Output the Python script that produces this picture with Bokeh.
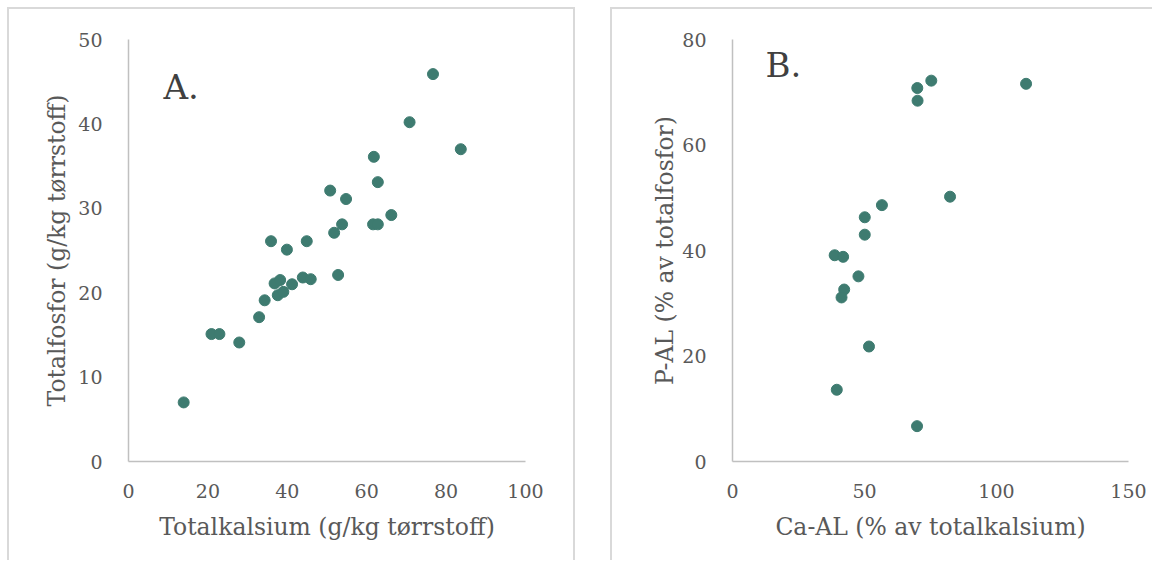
from bokeh.plotting import figure
from bokeh.models import Range1d, FixedTicker, Label
from bokeh.layouts import row
from bokeh.embed import file_html
from bokeh.resources import INLINE

# Panel A: total calcium vs total phosphorus (g/kg dry matter)
ca_total = [13.9, 20.9, 22.9, 27.9, 32.9, 34.3, 35.9, 36.8, 38.2, 37.6, 39.0, 39.9,
            41.2, 43.9, 44.9, 45.9, 50.8, 51.8, 52.8, 53.8, 54.8, 61.8, 61.6, 62.8,
            62.8, 66.2, 70.8, 76.7, 83.7]
p_total = [7.0, 15.1, 15.1, 14.1, 17.1, 19.1, 26.1, 21.1, 21.5, 19.7, 20.1, 25.1,
           21.0, 21.8, 26.1, 21.6, 32.1, 27.1, 22.1, 28.1, 31.1, 36.1, 28.1, 28.1,
           33.1, 29.2, 40.2, 45.9, 37.0]

# Panel B: Ca-AL (% of total Ca) vs P-AL (% of total P)
ca_al = [75.3, 70.0, 70.1, 111.2, 82.4, 56.6, 50.1, 50.1, 38.7, 41.9, 47.7, 42.3,
         41.3, 51.7, 39.5, 69.9]
p_al = [72.2, 70.8, 68.4, 71.6, 50.2, 48.6, 46.3, 43.0, 39.1, 38.8, 35.1, 32.6,
        31.1, 21.8, 13.6, 6.7]

xticks_a = [0, 20, 40, 60, 80, 100]
yticks_a = [0, 10, 20, 30, 40, 50]
xticks_b = [0, 50, 100, 150]
yticks_b = [0, 20, 40, 60, 80]

FONT = "DejaVu Serif"
TXT = "#595959"
DOT = "#3E7B70"
BORDER = "2px solid #d9d9d9"


def style(p, xt, yt, xlabel, ylabel, ystand):
    p.xgrid.visible = False
    p.ygrid.visible = False
    p.outline_line_color = None
    p.xaxis.ticker = FixedTicker(ticks=xt)
    p.yaxis.ticker = FixedTicker(ticks=yt)
    for ax in (p.xaxis[0], p.yaxis[0]):
        ax.major_tick_line_color = None
        ax.minor_tick_line_color = None
        ax.axis_line_color = "#c0c0c0"
        ax.axis_line_width = 1.5
        ax.major_label_text_font = FONT
        ax.major_label_text_font_size = "19px"
        ax.major_label_text_color = TXT
        ax.axis_label_text_font = FONT
        ax.axis_label_text_font_size = "23.5px"
        ax.axis_label_text_font_style = "normal"
        ax.axis_label_text_color = TXT
    p.xaxis.major_label_standoff = 16
    p.yaxis.major_label_standoff = 20
    p.xaxis.axis_label_standoff = 12
    p.yaxis.axis_label_standoff = ystand
    p.xaxis.axis_label = xlabel
    p.yaxis.axis_label = ylabel


pA = figure(width=568, height=553, x_range=Range1d(0, 100), y_range=Range1d(0, 50),
            output_backend="svg", toolbar_location=None,
            min_border_left=119, min_border_right=52, min_border_top=30, min_border_bottom=101)
style(pA, xticks_a, yticks_a, "Totalkalsium (g/kg tørrstoff)", "Totalfosfor (g/kg tørrstoff)", 4)
pA.scatter(ca_total, p_total, size=11, color=DOT, line_color=DOT)
pA.add_layout(Label(x=8.8, y=44.4, text="A.", text_font=FONT, text_font_size="34px",
                    text_color="#404040", text_baseline="alphabetic"))
pA.styles = {"border-top": BORDER, "border-left": BORDER, "border-right": BORDER}

pB = figure(width=542, height=553, x_range=Range1d(0, 150), y_range=Range1d(0, 80),
            output_backend="svg", toolbar_location=None,
            min_border_left=120, min_border_right=26, min_border_top=30, min_border_bottom=101)
style(pB, xticks_b, yticks_b, "Ca-AL (% av totalkalsium)", "P-AL (% av totalfosfor)", 0)
pB.scatter(ca_al, p_al, size=11, color=DOT, line_color=DOT)
pB.add_layout(Label(x=12.5, y=75.2, text="B.", text_font=FONT, text_font_size="34px",
                    text_color="#404040", text_baseline="alphabetic"))
pB.styles = {"border-top": BORDER, "border-left": BORDER}

layout = row(pA, pB, spacing=35, styles={"margin-left": "7px", "margin-top": "7px"})
open("out.html", "w").write(file_html(layout, INLINE))
